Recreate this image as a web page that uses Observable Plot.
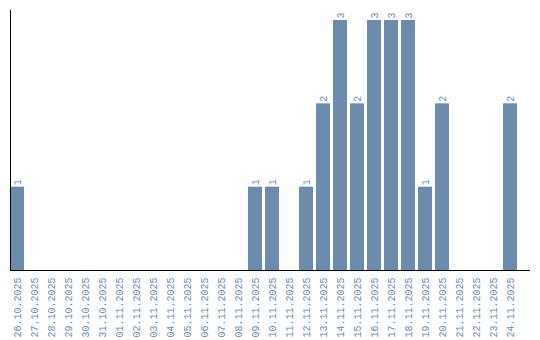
<!DOCTYPE html>
<html>
<head>
<meta charset="utf-8">
<script src="https://cdn.jsdelivr.net/npm/d3@7"></script>
<script src="https://cdn.jsdelivr.net/npm/@observablehq/plot@0.6"></script>
<style>
  html, body { margin: 0; padding: 0; background: #fff; }
</style>
</head>
<body>
<div id="chart"></div>
<script>
const dates = ["26.10.2025","27.10.2025","28.10.2025","29.10.2025","30.10.2025","31.10.2025","01.11.2025","02.11.2025","03.11.2025","04.11.2025","05.11.2025","06.11.2025","07.11.2025","08.11.2025","09.11.2025","10.11.2025","11.11.2025","12.11.2025","13.11.2025","14.11.2025","15.11.2025","16.11.2025","17.11.2025","18.11.2025","19.11.2025","20.11.2025","21.11.2025","22.11.2025","23.11.2025","24.11.2025"];
const counts = [1,0,0,0,0,0,0,0,0,0,0,0,0,0,1,1,0,1,2,3,2,3,3,3,1,2,0,0,0,2];

const data = dates.map((d, i) => ({date: d, count: counts[i]}));
const nonZero = data.filter(d => d.count > 0);
const color = "#6b8cad";

const chart = Plot.plot({
  width: 540,
  height: 340,
  marginTop: 10,
  marginLeft: 10,
  marginRight: 10,
  marginBottom: 70,
  style: {fontFamily: "'Liberation Mono', monospace", fontSize: "10px", background: "#fff"},
  x: {domain: dates, range: [10, 517], paddingInner: 0.2, paddingOuter: 0, label: null},
  y: {domain: [0, 3.12], axis: null},
  marks: [
    Plot.barY(data, {x: "date", y: "count", fill: color}),
    Plot.text(nonZero, {x: "date", y: "count", text: d => String(d.count), rotate: -90, textAnchor: "start", dy: -2, fill: color, fontSize: 10}),
    Plot.axisX({tickRotate: -90, tickSize: 0, tickPadding: 7, fill: color, label: null, fontSize: 10}),
    Plot.ruleY([0], {stroke: "black"}),
    Plot.frame({anchor: "left", stroke: "black"})
  ]
});
document.getElementById("chart").appendChild(chart);
</script>
</body>
</html>
